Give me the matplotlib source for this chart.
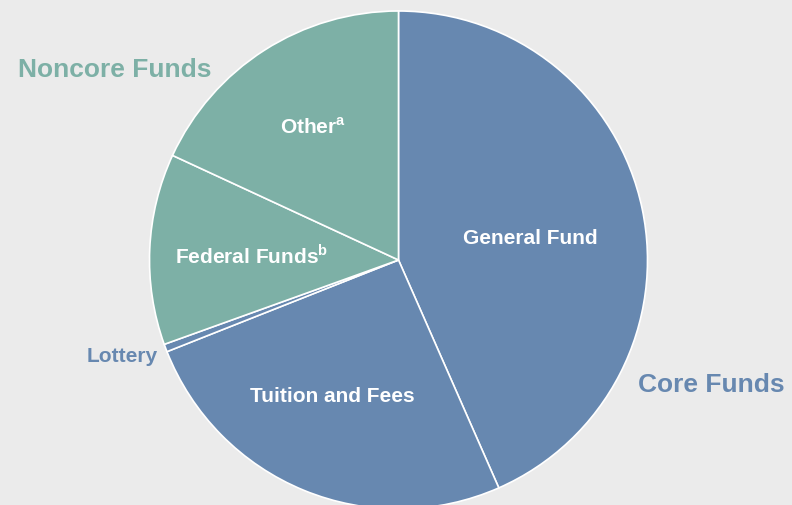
import matplotlib.pyplot as plt

# Funding shares (percent), clockwise from 12 o'clock
sources = ["General Fund", "Tuition and Fees", "Lottery", "Federal Funds", "Other"]
shares = [43.4, 25.6, 0.5, 12.4, 18.1]
groups = ["core", "core", "core", "noncore", "noncore"]

blue = "#6788b0"
green = "#7db0a6"
colors = [blue if g == "core" else green for g in groups]

plt.rcParams["font.family"] = ["Liberation Sans", "DejaVu Sans"]
plt.rcParams["mathtext.fontset"] = "custom"
plt.rcParams["mathtext.bf"] = "Liberation Sans:bold"
plt.rcParams["mathtext.rm"] = "Liberation Sans:bold"

fig = plt.figure(figsize=(7.92, 5.06), dpi=100, facecolor="#ebebeb")
ax = fig.add_axes([0, 0, 1, 1])
ax.set_facecolor("#ebebeb")

ax.pie(shares, colors=colors, startangle=90, counterclock=False,
       center=(398.5, 245), radius=249, frame=True,
       wedgeprops=dict(edgecolor="white", linewidth=1.2))
ax.set_xlim(0, 792)
ax.set_ylim(0, 506)
ax.set_aspect("equal")
ax.axis("off")

# Slice labels
inner = dict(color="white", fontsize=15, fontweight="bold", ha="center", va="center")
ax.text(530, 506 - 238, "General Fund", **inner)
ax.text(332, 506 - 397, "Tuition and Fees", **inner)
ax.text(252, 506 - 256, r"Federal Funds$^{\mathbf{b}}$", **inner)
ax.text(313, 506 - 127, r"Other$^{\mathbf{a}}$", **inner)
ax.text(158, 506 - 357, "Lottery", color=blue, fontsize=15, fontweight="bold",
        ha="right", va="center")

# Group labels
ax.text(18, 506 - 70, "Noncore Funds", color=green, fontsize=19, fontweight="bold",
        ha="left", va="center")
ax.text(638, 506 - 385, "Core Funds", color=blue, fontsize=19, fontweight="bold",
        ha="left", va="center")

fig.savefig("out.png", dpi=100, facecolor=fig.get_facecolor())
